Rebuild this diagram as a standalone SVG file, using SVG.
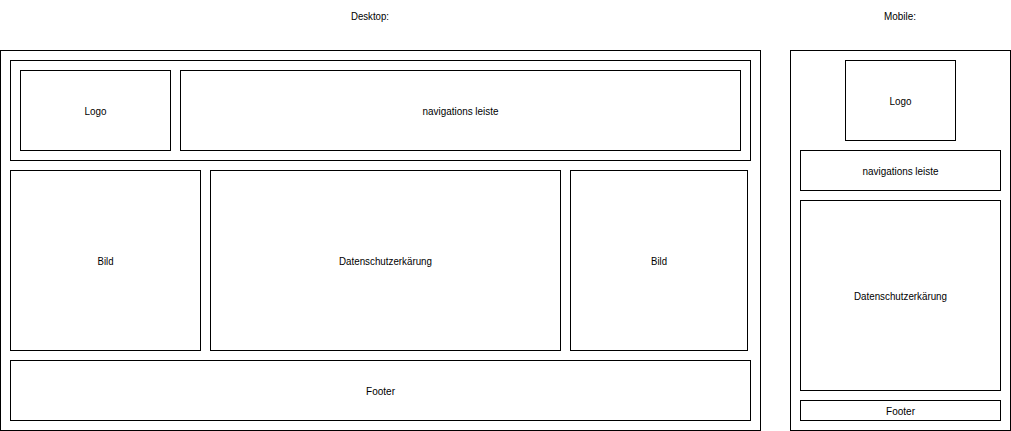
<svg xmlns="http://www.w3.org/2000/svg" width="1011" height="431" viewBox="0 0 1011 431">
<style>
rect{fill:#fff;stroke:#000;stroke-width:1}
text{font-family:"Liberation Sans",Arial,sans-serif;font-size:11px;fill:#000;text-anchor:middle;dominant-baseline:central}
</style>
<rect x="0" y="0" width="1011" height="431" style="stroke:none"/>
<g id="title-desktop"><text x="370" y="16" textLength="38" lengthAdjust="spacingAndGlyphs">Desktop:</text></g>
<g id="title-mobile"><text x="900" y="16" textLength="32" lengthAdjust="spacingAndGlyphs">Mobile:</text></g>
<g id="desktop"><rect x="0.5" y="50.5" width="760" height="380"/></g>
<g id="desktop-header"><rect x="10.5" y="60.5" width="740" height="100"/></g>
<g id="desktop-logo"><rect x="20.5" y="70.5" width="150" height="80"/><text x="95.5" y="111" textLength="22" lengthAdjust="spacingAndGlyphs">Logo</text></g>
<g id="desktop-nav"><rect x="180.5" y="70.5" width="560" height="80"/><text x="460.5" y="111" textLength="76" lengthAdjust="spacingAndGlyphs">navigations leiste</text></g>
<g id="desktop-bild-left"><rect x="10.5" y="170.5" width="190" height="180"/><text x="105.5" y="261" textLength="16" lengthAdjust="spacingAndGlyphs">Bild</text></g>
<g id="desktop-datenschutz"><rect x="210.5" y="170.5" width="350" height="180"/><text x="385.5" y="261" textLength="93" lengthAdjust="spacingAndGlyphs">Datenschutzerkärung</text></g>
<g id="desktop-bild-right"><rect x="570.5" y="170.5" width="177" height="180"/><text x="659" y="261" textLength="16" lengthAdjust="spacingAndGlyphs">Bild</text></g>
<g id="desktop-footer"><rect x="10.5" y="360.5" width="740" height="60"/><text x="380.5" y="391" textLength="29" lengthAdjust="spacingAndGlyphs">Footer</text></g>
<g id="mobile"><rect x="790.5" y="50.5" width="220" height="380"/></g>
<g id="mobile-logo"><rect x="845.5" y="60.5" width="110" height="80"/><text x="900.5" y="101" textLength="22" lengthAdjust="spacingAndGlyphs">Logo</text></g>
<g id="mobile-nav"><rect x="800.5" y="150.5" width="200" height="40"/><text x="900.5" y="171" textLength="76" lengthAdjust="spacingAndGlyphs">navigations leiste</text></g>
<g id="mobile-datenschutz"><rect x="800.5" y="200.5" width="200" height="190"/><text x="900.5" y="296" textLength="93" lengthAdjust="spacingAndGlyphs">Datenschutzerkärung</text></g>
<g id="mobile-footer"><rect x="800.5" y="400.5" width="200" height="20"/><text x="900.5" y="411" textLength="29" lengthAdjust="spacingAndGlyphs">Footer</text></g>
<g id="connectors"></g>
</svg>
